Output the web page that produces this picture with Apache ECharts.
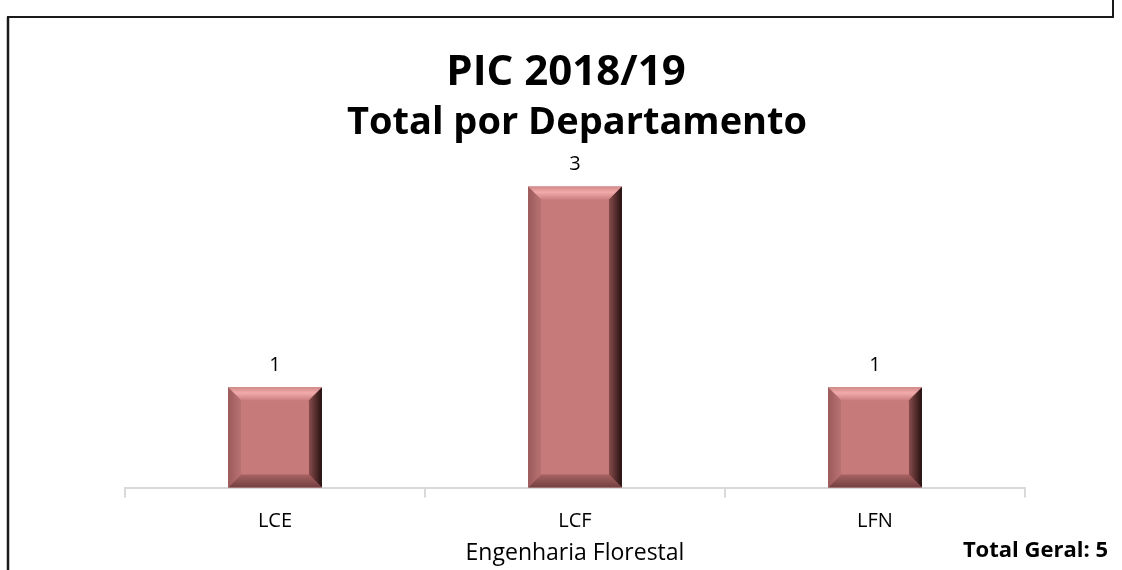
<!DOCTYPE html>
<html>
<head>
<meta charset="utf-8">
<script src="https://cdn.jsdelivr.net/npm/echarts@6/dist/echarts.min.js"></script>
<style>
  html, body { margin: 0; padding: 0; background: #fff; }
  #main { width: 1122px; height: 570px; }
</style>
</head>
<body>
<div id="main"></div>
<script>
// dados do gráfico
var departamentos = ['LCE', 'LCF', 'LFN'];
var totais = [1, 3, 1];
var totalGeral = 5;

var myChart = echarts.init(document.getElementById('main'));

// barra com efeito "bisel" desenhada a partir das coordenadas do eixo
function barraBisel(params, api) {
  var i = api.value(0);
  var v = api.value(1);
  var topo = api.coord([i, v]);
  var base = api.coord([i, 0]);
  var w = api.size([1, 0])[0] * 0.313;
  var x0 = topo[0] - w / 2, x1 = topo[0] + w / 2;
  var y0 = topo[1], y1 = base[1];
  var b = 13;
  return {
    type: 'group',
    children: [
      { type: 'rect', shape: { x: x0, y: y0, width: w, height: y1 - y0 }, style: { fill: '#c77a7a' } },
      { type: 'polygon', shape: { points: [[x0, y0], [x1, y0], [x1 - b, y0 + b], [x0 + b, y0 + b]] },
        style: { fill: new echarts.graphic.LinearGradient(0, 0, 0, 1, [
          { offset: 0, color: '#d08888' }, { offset: 0.45, color: '#f2aaaa' }, { offset: 1, color: '#cd8181' }]) } },
      { type: 'polygon', shape: { points: [[x0, y0], [x0 + b, y0 + b], [x0 + b, y1 - b], [x0, y1]] },
        style: { fill: new echarts.graphic.LinearGradient(0, 0, 1, 0, [
          { offset: 0, color: '#9c5a5a' }, { offset: 1, color: '#b97272' }]) } },
      { type: 'polygon', shape: { points: [[x0, y1], [x0 + b, y1 - b], [x1 - b, y1 - b], [x1, y1]] },
        style: { fill: new echarts.graphic.LinearGradient(0, 0, 0, 1, [
          { offset: 0, color: '#a86262' }, { offset: 1, color: '#734040' }]) } },
      { type: 'polygon', shape: { points: [[x1, y0], [x1, y1], [x1 - b, y1 - b], [x1 - b, y0 + b]] },
        style: { fill: new echarts.graphic.LinearGradient(0, 0, 1, 0, [
          { offset: 0, color: '#8a4c4c' }, { offset: 1, color: '#241010' }]) } },
      { type: 'text', x: topo[0], y: y0 - 22,
        style: { text: String(v), fill: '#000', font: '20px "Open Sans", sans-serif',
                 align: 'center', verticalAlign: 'middle' } }
    ]
  };
}

var option = {
  backgroundColor: '#fff',
  animation: false,
  grid: { left: 125, right: 97, top: 86, bottom: 80 },
  xAxis: {
    type: 'category',
    data: departamentos,
    name: 'Engenharia Florestal',
    nameLocation: 'middle',
    nameGap: 66,
    nameTextStyle: { fontFamily: 'Open Sans', fontSize: 23, color: '#000', verticalAlign: 'middle' },
    axisLine: { lineStyle: { color: '#d9d9d9', width: 2 } },
    axisTick: { show: true, length: 10, lineStyle: { color: '#d9d9d9', width: 2 } },
    axisLabel: { fontFamily: 'Open Sans', fontSize: 20, color: '#000', margin: 34, verticalAlign: 'middle' }
  },
  yAxis: {
    type: 'value', min: 0, max: 4, show: false
  },
  series: [{
    type: 'custom',
    renderItem: barraBisel,
    encode: { x: 0, y: 1 },
    data: totais.map(function (v, i) { return [i, v]; })
  }],
  graphic: [
    { type: 'line', shape: { x1: 8, y1: 17, x2: 8, y2: 570 }, style: { stroke: '#1a1a1a', lineWidth: 2.5 } },
    { type: 'line', shape: { x1: 7, y1: 17, x2: 1114, y2: 17 }, style: { stroke: '#1a1a1a', lineWidth: 2 } },
    { type: 'line', shape: { x1: 1113, y1: 0, x2: 1113, y2: 17 }, style: { stroke: '#1a1a1a', lineWidth: 2 } },
    { type: 'text', x: 566, y: 73,
      style: { text: 'PIC 2018/19', fill: '#000', align: 'center', verticalAlign: 'middle',
               font: 'bold 42px "Open Sans", sans-serif' } },
    { type: 'text', x: 577, y: 123,
      style: { text: 'Total por Departamento', fill: '#000', align: 'center', verticalAlign: 'middle',
               font: 'bold 38px "Open Sans", sans-serif' } },
    { type: 'text', x: 1108, y: 551,
      style: { text: 'Total Geral: ' + totalGeral, fill: '#000', align: 'right', verticalAlign: 'middle',
               font: 'bold 22px "Open Sans", sans-serif' } }
  ]
};

myChart.setOption(option);
</script>
</body>
</html>
